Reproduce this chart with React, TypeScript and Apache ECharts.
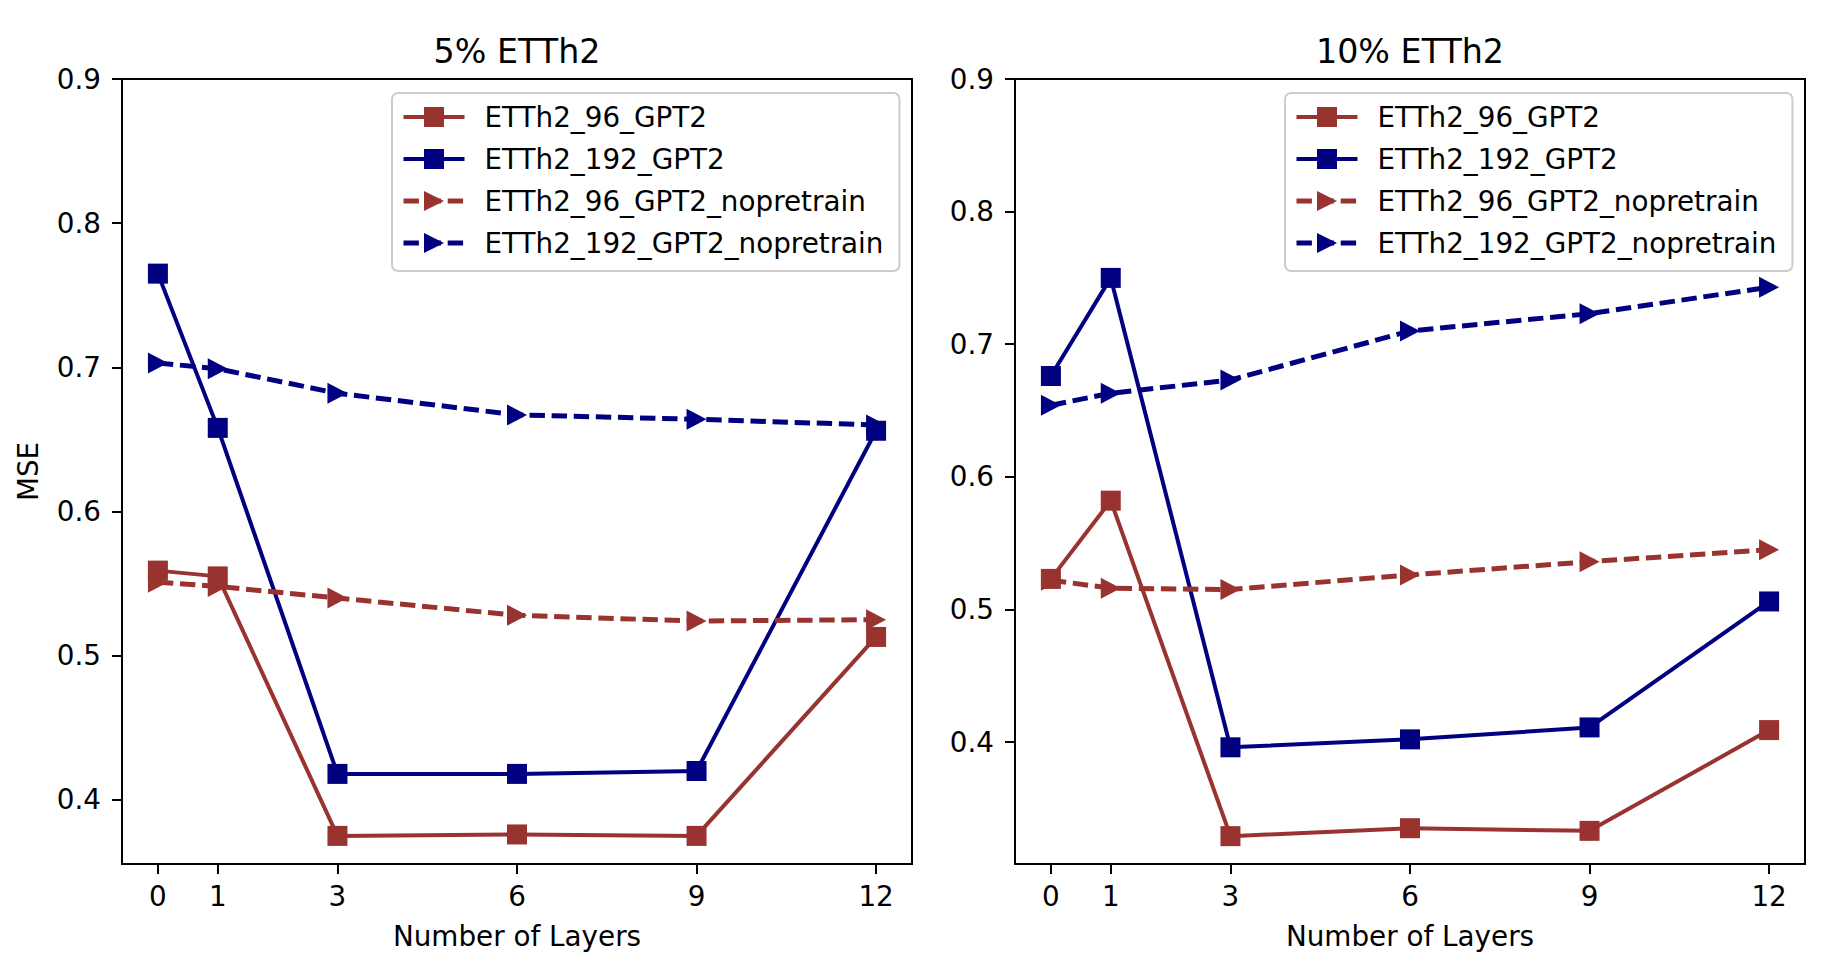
import React, { useEffect, useRef } from "react";
import * as echarts from "echarts";

const layers = [0, 1, 3, 6, 9, 12];
const seriesNames = [
  "ETTh2_96_GPT2",
  "ETTh2_192_GPT2",
  "ETTh2_96_GPT2_nopretrain",
  "ETTh2_192_GPT2_nopretrain",
];

// 5% ETTh2
const p5_96 = [0.559, 0.555, 0.375, 0.376, 0.375, 0.513];
const p5_192 = [0.765, 0.658, 0.418, 0.418, 0.42, 0.656];
const p5_96_np = [0.551, 0.548, 0.54, 0.528, 0.524, 0.525];
const p5_192_np = [0.703, 0.699, 0.682, 0.667, 0.664, 0.66];

// 10% ETTh2
const p10_96 = [0.523, 0.582, 0.329, 0.335, 0.333, 0.409];
const p10_192 = [0.676, 0.75, 0.396, 0.402, 0.411, 0.506];
const p10_96_np = [0.522, 0.516, 0.515, 0.526, 0.536, 0.545];
const p10_192_np = [0.654, 0.663, 0.673, 0.71, 0.723, 0.743];

const yTicks = [0.4, 0.5, 0.6, 0.7, 0.8, 0.9];
const titles = ["5% ETTh2", "10% ETTh2"];

const RED = "#993330";
const NAVY = "#000080";
const FONT = "DejaVu Sans";
const FS = 27.8;
const TRI = "path://M0,0L20,10.5L0,21Z";
const SOLID_W = 4;
const DASH_W = 5;
const DASH: number[] = [15.4, 6.7];

function pairs(vals: number[]) {
  return layers.map((x, i) => [x, vals[i]]);
}

export default function App() {
  const ref = useRef<HTMLDivElement>(null);
  useEffect(() => {
    if (!ref.current) return;
    const chart = echarts.init(ref.current, null, { renderer: "svg" });
    const grids = [
      { left: 122, top: 79, width: 790, height: 785 },
      { left: 1015, top: 79, width: 790, height: 785 },
    ];
    const yMins = [0.3555, 0.308];
    const panels = [
      [p5_96, p5_192, p5_96_np, p5_192_np],
      [p10_96, p10_192, p10_96_np, p10_192_np],
    ];
    const colors = [RED, NAVY, RED, NAVY];
    const series: any[] = [];
    panels.forEach((vals, gi) => {
      vals.forEach((v, si) => {
        const dashed = si >= 2;
        series.push({
          name: seriesNames[si],
          type: "line",
          xAxisIndex: gi,
          yAxisIndex: gi,
          data: pairs(v),
          symbol: dashed ? TRI : "rect",
          symbolSize: dashed ? [20, 21] : 20,
          itemStyle: { color: colors[si] },
          lineStyle: {
            color: colors[si],
            width: dashed ? DASH_W : SOLID_W,
            type: dashed ? DASH : "solid",
          },
          z: 2 + si,
        });
      });
    });
    const legendData = seriesNames.map((n, si) => ({
      name: n,
      lineStyle: {
        width: si >= 2 ? DASH_W : SOLID_W,
        color: colors[si],
        type: si >= 2 ? DASH : "solid",
      },
    }));
    const legendBase = {
      orient: "vertical",
      data: legendData,
      itemWidth: 61,
      itemHeight: 25,
      itemGap: 12,
      selectedMode: false,
      textStyle: {
        fontFamily: FONT,
        fontSize: FS,
        color: "#000",
        lineHeight: 30,
        padding: [0, 0, 0, 15],
      },
      borderColor: "#cccccc",
      borderWidth: 2,
      borderRadius: 6,
      backgroundColor: "rgba(255,255,255,0.8)",
      padding: [9, 16, 13, 9],
    };
    const option: any = {
      animation: false,
      backgroundColor: "#fff",
      grid: grids.map((g) => ({
        ...g,
        show: true,
        borderColor: "#000",
        borderWidth: 2,
        backgroundColor: "transparent",
        containLabel: false,
      })),
      xAxis: grids.map((_, gi) => ({
        type: "value",
        gridIndex: gi,
        min: -0.6,
        max: 12.6,
        name: "Number of Layers",
        nameLocation: "middle",
        nameGap: 58,
        nameTextStyle: { fontFamily: FONT, fontSize: FS, color: "#000" },
        axisLine: { show: true, onZero: false, lineStyle: { color: "#000", width: 2 } },
        axisTick: {
          show: true,
          length: 10,
          customValues: layers,
          lineStyle: { color: "#000", width: 2 },
        },
        axisLabel: {
          customValues: layers,
          fontFamily: FONT,
          fontSize: FS,
          color: "#000",
          margin: 18,
        },
        splitLine: { show: false },
      })),
      yAxis: grids.map((_, gi) => ({
        type: "value",
        gridIndex: gi,
        min: yMins[gi],
        max: 0.9,
        name: gi === 0 ? "MSE" : "",
        nameLocation: "middle",
        nameGap: 80,
        nameTextStyle: { fontFamily: FONT, fontSize: FS, color: "#000" },
        axisLine: { show: true, onZero: false, lineStyle: { color: "#000", width: 2 } },
        axisTick: {
          show: true,
          length: 10,
          customValues: yTicks,
          lineStyle: { color: "#000", width: 2 },
        },
        axisLabel: {
          customValues: yTicks,
          fontFamily: FONT,
          fontSize: FS,
          color: "#000",
          margin: 21,
          formatter: (v: number) => v.toFixed(1),
        },
        splitLine: { show: false },
      })),
      legend: [
        { ...legendBase, left: 392, top: 93 },
        { ...legendBase, left: 1285, top: 93 },
      ],
      graphic: [
        {
          type: "text",
          x: 517,
          y: 51,
          style: {
            text: titles[0],
            fontFamily: FONT,
            fontSize: 33.3,
            fill: "#000",
            align: "center",
            verticalAlign: "middle",
          },
        },
        {
          type: "text",
          x: 1410,
          y: 51,
          style: {
            text: titles[1],
            fontFamily: FONT,
            fontSize: 33.3,
            fill: "#000",
            align: "center",
            verticalAlign: "middle",
          },
        },
      ],
      series,
    };
    chart.setOption(option);
    return () => chart.dispose();
  }, []);
  return (
    <div
      ref={ref}
      style={{ position: "absolute", left: 0, top: 0, width: 1844, height: 972 }}
    />
  );
}
